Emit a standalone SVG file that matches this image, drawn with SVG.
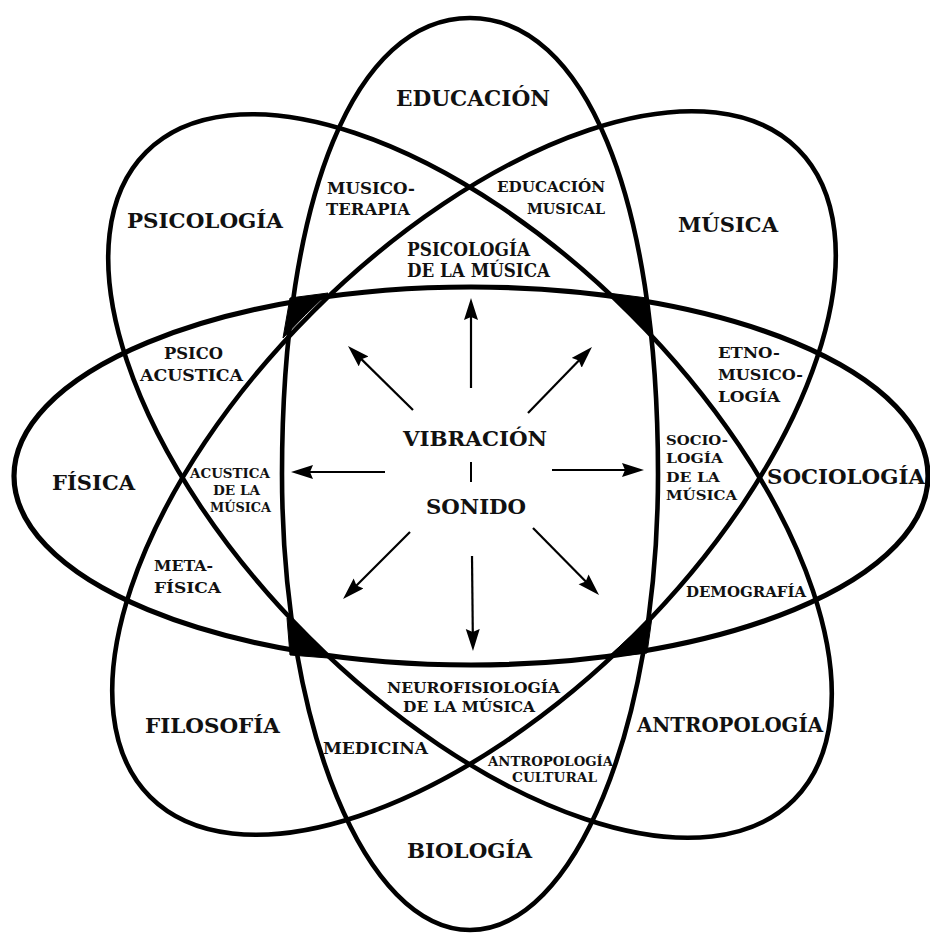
<svg xmlns="http://www.w3.org/2000/svg" width="930" height="935" viewBox="0 0 930 935">
<style>
.ring{fill:none;stroke:#000;stroke-width:4.6}
.ringh{fill:none;stroke:#000;stroke-width:5.2}
.wedge{fill:#000;stroke:#000;stroke-width:1;stroke-linejoin:round}
text{font-family:"DejaVu Serif","Liberation Serif",serif;font-weight:bold;fill:#111}
.big{font-size:21px}
.arrow{stroke:#000;stroke-width:2.2;fill:none;marker-end:url(#ah)}
</style>
<defs>
<marker id="ah" markerUnits="userSpaceOnUse" markerWidth="24" markerHeight="16" refX="14" refY="7" orient="auto">
<path d="M0,0 L22,7 L0,14 L3,7 Z" fill="#000"/>
</marker>
</defs>
<rect width="930" height="935" fill="#fff"/>
<g id="shapes">
<g id="ellipse-vertical"><path class="ring" d="M658,474 C658,727.1 574.3,930 470,930 C365.7,930 282,727.1 282,474 C282,195.8 355.3,18 470,18 C584.7,18 658,195.8 658,474 Z"/></g>
<g id="ellipse-horizontal"><ellipse class="ringh" cx="471" cy="476" rx="457" ry="189"/></g>
<g id="ellipse-diag1"><ellipse class="ring" cx="0" cy="0" rx="458" ry="228" transform="translate(470,476) rotate(45)"/></g>
<g id="ellipse-diag2"><ellipse class="ring" cx="0" cy="0" rx="458" ry="228" transform="translate(474,473) rotate(-45)"/></g>
<g id="wedges">
<path class="wedge" d="M290,298 L328,293 Q305,314 283,338 Z"/>
<path class="wedge" d="M608,293 L647,298 L650,333 Q629,312 608,293 Z"/>
<path class="wedge" d="M287,618 Q307,638 328,658 L290,655 Z"/>
<path class="wedge" d="M652,617 L647,653 L608,657 Q630,637 652,617 Z"/>
</g>
</g>
<g id="connectors">
<path class="arrow" d="M471,388 L471,306"/>
<path class="arrow" d="M413,410 L353.7,351.6"/>
<path class="arrow" d="M528,413 L586.4,352.7"/>
<path class="arrow" d="M385,472 L299,472"/>
<path class="arrow" d="M552,470 L636,470"/>
<path class="arrow" d="M410,532 L348.7,593.3"/>
<path class="arrow" d="M472,556 L472.9,643"/>
<path class="arrow" d="M533,528 L593.4,589.3"/>
<path d="M471,462 L471,482" stroke="#000" stroke-width="2"/>
</g>
<g id="node-educacion"><text class="big" x="396" y="106" textLength="154" lengthAdjust="spacingAndGlyphs" style="font-size:22px">EDUCACIÓN</text></g>
<g id="node-psicologia"><text class="big" x="127" y="228" textLength="156" lengthAdjust="spacingAndGlyphs">PSICOLOGÍA</text></g>
<g id="node-musica"><text class="big" x="678" y="232" textLength="100" lengthAdjust="spacingAndGlyphs">MÚSICA</text></g>
<g id="node-fisica"><text class="big" x="52" y="490" textLength="83" lengthAdjust="spacingAndGlyphs">FÍSICA</text></g>
<g id="node-sociologia"><text class="big" x="767" y="484" textLength="158" lengthAdjust="spacingAndGlyphs">SOCIOLOGÍA</text></g>
<g id="node-filosofia"><text class="big" x="145" y="733" textLength="135" lengthAdjust="spacingAndGlyphs">FILOSOFÍA</text></g>
<g id="node-antropologia"><text class="big" x="637" y="732" textLength="186" lengthAdjust="spacingAndGlyphs">ANTROPOLOGÍA</text></g>
<g id="node-biologia"><text class="big" x="407" y="858" textLength="125" lengthAdjust="spacingAndGlyphs">BIOLOGÍA</text></g>
<g id="node-centro">
<text class="big" x="403" y="446" textLength="144" lengthAdjust="spacingAndGlyphs">VIBRACIÓN</text>
<text class="big" x="426" y="514" textLength="100" lengthAdjust="spacingAndGlyphs">SONIDO</text>
</g>
<g id="node-psicologia-musica" style="font-size:18.5px">
<text x="407" y="256" textLength="123" lengthAdjust="spacingAndGlyphs">PSICOLOGÍA</text>
<text x="407" y="277" textLength="143" lengthAdjust="spacingAndGlyphs">DE LA MÚSICA</text>
</g>
<g id="node-musicoterapia" style="font-size:16.5px">
<text x="327" y="194" textLength="88" lengthAdjust="spacingAndGlyphs">MUSICO-</text>
<text x="326" y="215" textLength="84" lengthAdjust="spacingAndGlyphs">TERAPIA</text>
</g>
<g id="node-educacion-musical" style="font-size:14.5px">
<text x="497" y="192" textLength="108" lengthAdjust="spacingAndGlyphs">EDUCACIÓN</text>
<text x="527" y="214" textLength="78" lengthAdjust="spacingAndGlyphs">MUSICAL</text>
</g>
<g id="node-psicoacustica" style="font-size:16px">
<text x="164" y="359" textLength="59" lengthAdjust="spacingAndGlyphs">PSICO</text>
<text x="140" y="381" textLength="103" lengthAdjust="spacingAndGlyphs">ACUSTICA</text>
</g>
<g id="node-etnomusicologia" style="font-size:15.5px">
<text x="718" y="358" textLength="62" lengthAdjust="spacingAndGlyphs">ETNO-</text>
<text x="718" y="380" textLength="85" lengthAdjust="spacingAndGlyphs">MUSICO-</text>
<text x="718" y="402" textLength="62" lengthAdjust="spacingAndGlyphs">LOGÍA</text>
</g>
<g id="node-sociologia-musica" style="font-size:13.5px">
<text x="666" y="445" textLength="62" lengthAdjust="spacingAndGlyphs">SOCIO-</text>
<text x="666" y="463" textLength="57" lengthAdjust="spacingAndGlyphs">LOGÍA</text>
<text x="666" y="482" textLength="54" lengthAdjust="spacingAndGlyphs">DE LA</text>
<text x="666" y="500" textLength="71" lengthAdjust="spacingAndGlyphs">MÚSICA</text>
</g>
<g id="node-acustica-musica" style="font-size:13px">
<text x="190" y="478" textLength="80" lengthAdjust="spacingAndGlyphs">ACUSTICA</text>
<text x="213" y="495" textLength="47" lengthAdjust="spacingAndGlyphs">DE LA</text>
<text x="210" y="512" textLength="61" lengthAdjust="spacingAndGlyphs">MÚSICA</text>
</g>
<g id="node-metafisica" style="font-size:15.5px">
<text x="154" y="571" textLength="59" lengthAdjust="spacingAndGlyphs">META-</text>
<text x="154" y="593" textLength="67" lengthAdjust="spacingAndGlyphs">FÍSICA</text>
</g>
<g id="node-demografia" style="font-size:14px"><text x="686" y="597" textLength="120" lengthAdjust="spacingAndGlyphs">DEMOGRAFÍA</text></g>
<g id="node-neurofisiologia" style="font-size:14px">
<text x="387" y="693" textLength="173" lengthAdjust="spacingAndGlyphs">NEUROFISIOLOGÍA</text>
<text x="403" y="712" textLength="132" lengthAdjust="spacingAndGlyphs">DE LA MÚSICA</text>
</g>
<g id="node-medicina" style="font-size:16px"><text x="323" y="754" textLength="105" lengthAdjust="spacingAndGlyphs">MEDICINA</text></g>
<g id="node-antropologia-cultural" style="font-size:13px">
<text x="488" y="766" textLength="125" lengthAdjust="spacingAndGlyphs">ANTROPOLOGÍA</text>
<text x="512" y="782" textLength="85" lengthAdjust="spacingAndGlyphs">CULTURAL</text>
</g>
</svg>
